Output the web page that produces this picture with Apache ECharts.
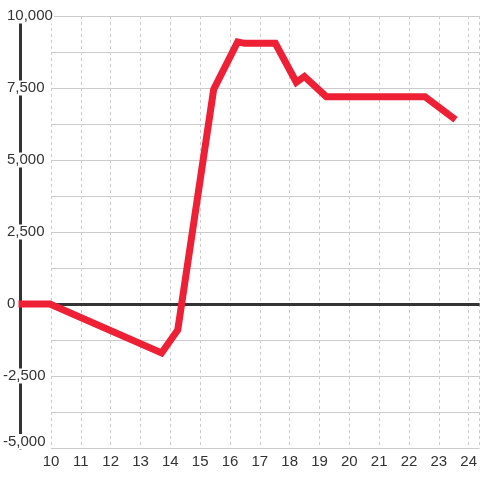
<!DOCTYPE html>
<html><head><meta charset="utf-8">
<script src="https://cdn.jsdelivr.net/npm/echarts@6/dist/echarts.min.js"></script>
<style>html,body{margin:0;padding:0;background:#fff}#c{width:480px;height:480px}</style>
</head><body><div id="c"></div>
<script>
const xValues = [8.95, 10, 13.73, 14.27, 15.47, 16.27, 16.5, 17.53, 18.23, 18.5, 19.23, 22.53, 23.55];
const yValues = [0, 0, -1700, -900, 7450, 9100, 9050, 9050, 7700, 7900, 7200, 7200, 6400];
const yLabelValues = [10000, 7500, 5000, 2500, 0, -2500, -5000];
const xLabelValues = [10, 11, 12, 13, 14, 15, 16, 17, 18, 19, 20, 21, 22, 23, 24];

const data = xValues.map((x, i) => [x, yValues[i]]);
const chart = echarts.init(document.getElementById('c'));
const font = 'Liberation Sans, Arial, sans-serif';
const yMin = -5000, yMax = 10000, xMax = 24.3667;
const txt = { color: '#333', fontSize: 15, fontFamily: font, backgroundColor: '#fff' };
chart.setOption({
  animation: false,
  grid: [
    { left: 50, right: -1, top: 16, bottom: 32, containLabel: false },
    { left: 20, right: -1, top: 16, bottom: 32, containLabel: false }
  ],
  xAxis: [{
    gridIndex: 0, type: 'value', min: 10, max: xMax, interval: 1,
    axisLine: { show: false }, axisTick: { show: false },
    axisLabel: {
      color: '#333', fontSize: 15, fontFamily: font, margin: 6,
      showMaxLabel: false,
      formatter: v => xLabelValues.includes(Math.round(v * 1000) / 1000) ? String(v) : ''
    },
    splitLine: { show: true, lineStyle: { color: '#ccc', type: [3, 3], width: 1 } }
  }, {
    gridIndex: 1, type: 'value', min: 9, max: xMax,
    axisLine: { show: false }, axisTick: { show: false }, axisLabel: { show: false },
    splitLine: { show: false }
  }],
  yAxis: [{
    gridIndex: 0, type: 'value', min: yMin, max: yMax, interval: 1250, z: 4,
    axisLine: { show: false }, axisTick: { show: false },
    axisLabel: {
      color: '#333', fontSize: 15, fontFamily: font, margin: 48, align: 'left',
      formatter: v => {
        if (!yLabelValues.includes(v)) return '';
        const s = v.toLocaleString('en-US');
        if (v === -5000) return '{n|' + s + '}\n{s| }';
        return v < 0 ? '{n|' + s + '}' : '{p|' + s + '}';
      },
      rich: {
        p: Object.assign({ padding: [0, 1, 0, 4] }, txt),
        n: Object.assign({ padding: [0, 1, 0, 0] }, txt),
        s: { fontSize: 1, lineHeight: 13 }
      }
    },
    splitLine: { show: true, lineStyle: { color: '#ccc', width: 1 } }
  }, {
    gridIndex: 1, type: 'value', min: yMin, max: yMax, interval: 1250, z: 1,
    axisLine: { show: true, lineStyle: { color: '#333', width: 3 } },
    axisTick: { show: false }, axisLabel: { show: false }, splitLine: { show: false }
  }],
  series: [{
    type: 'line', xAxisIndex: 0, yAxisIndex: 0, data: [],
    markLine: {
      silent: true, symbol: 'none', label: { show: false },
      lineStyle: { color: '#333', width: 3, type: 'solid' },
      data: [{ yAxis: 0 }]
    }
  }, {
    type: 'line', xAxisIndex: 1, yAxisIndex: 1, data: data, showSymbol: false, symbol: 'none',
    lineStyle: { color: '#ee2036', width: 7, cap: 'butt', join: 'miter' },
    z: 5
  }]
});
</script></body></html>
